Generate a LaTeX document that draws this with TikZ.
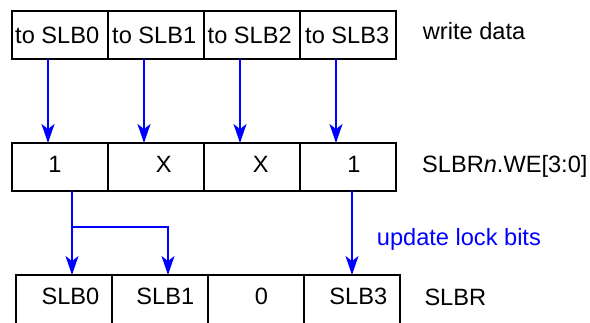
\documentclass[tikz,border=0pt]{standalone}
\usepackage{fontspec}
\setmainfont{Liberation Sans}
\usetikzlibrary{arrows.meta}
\begin{document}
\begin{tikzpicture}[x=1pt,y=-1pt,
  cell/.style={draw=black,line width=1.6pt,minimum width=96pt,minimum height=48pt,inner sep=0pt,outer sep=0pt},
  lowcell/.style={cell,minimum height=52pt},
  txt/.style={inner sep=0pt,font=\fontsize{23.6}{28}\selectfont},
  arr/.style={draw=blue,line width=1.6pt,-{Stealth[length=19pt,width=13pt,inset=5pt]}},
  link/.style={draw=blue,line width=1.6pt}]
\useasboundingbox (0,0) rectangle (590,322);
\clip (0,0) rectangle (590,322);
% top row
\node[cell] (a1) at (60,35) {};
\node[cell] (a2) at (156,35) {};
\node[cell] (a3) at (252,35) {};
\node[cell] (a4) at (348,35) {};
\node[txt,anchor=base west] (ta1) at (15,43) {to SLB0};
\node[txt,anchor=base west] (ta2) at (112,43) {to SLB1};
\node[txt,anchor=base west] (ta3) at (207.5,43) {to SLB2};
\node[txt,anchor=base west] (ta4) at (305,43) {to SLB3};
\node[txt,anchor=base west] (lw) at (422.7,39.3) {write data};
% middle row
\node[cell] (b1) at (60,167) {};
\node[cell] (b2) at (156,167) {};
\node[cell] (b3) at (252,167) {};
\node[cell] (b4) at (348,167) {};
\node[txt,anchor=base] (tb1) at (55,172) {1};
\node[txt,anchor=base] (tb2) at (163.7,172) {X};
\node[txt,anchor=base] (tb3) at (260.7,172) {X};
\node[txt,anchor=base] (tb4) at (354,172) {1};
\node[txt,anchor=base west] (lwe) at (422,172) {SLBR\textit{n}.WE[3:0]};
% bottom row
\node[lowcell] (c1) at (64,301) {};
\node[lowcell] (c2) at (160,301) {};
\node[lowcell] (c3) at (256,301) {};
\node[lowcell] (c4) at (352,301) {};
\node[txt,anchor=base] (tc1) at (70.5,304) {SLB0};
\node[txt,anchor=base] (tc2) at (165.3,304) {SLB1};
\node[txt,anchor=base] (tc3) at (261.5,304) {0};
\node[txt,anchor=base] (tc4) at (358.3,304) {SLB3};
\node[txt,anchor=base west] (ls) at (424.3,305) {SLBR};
\node[txt,anchor=base west,text=blue] (lu) at (376.7,245) {update lock bits};
% arrows top -> middle
\draw[arr] ([xshift=-12pt]a1.south) -- ([xshift=-12pt]b1.north);
\draw[arr] ([xshift=-12pt]a2.south) -- ([xshift=-12pt]b2.north);
\draw[arr] ([xshift=-12pt]a3.south) -- ([xshift=-12pt]b3.north);
\draw[arr] ([xshift=-12pt]a4.south) -- ([xshift=-12pt]b4.north);
% arrows middle -> bottom
\coordinate (br) at ([xshift=12pt]b1.south |- 0,227);
\draw[arr] ([xshift=12pt]b1.south) -- ([xshift=12pt]b1.south |- c1.north);
\draw[arr] (br) -| ([xshift=8pt]c2.north);
\draw[arr] ([xshift=4pt]b4.south) -- ([xshift=4pt]b4.south |- c4.north);
\end{tikzpicture}
\end{document}
